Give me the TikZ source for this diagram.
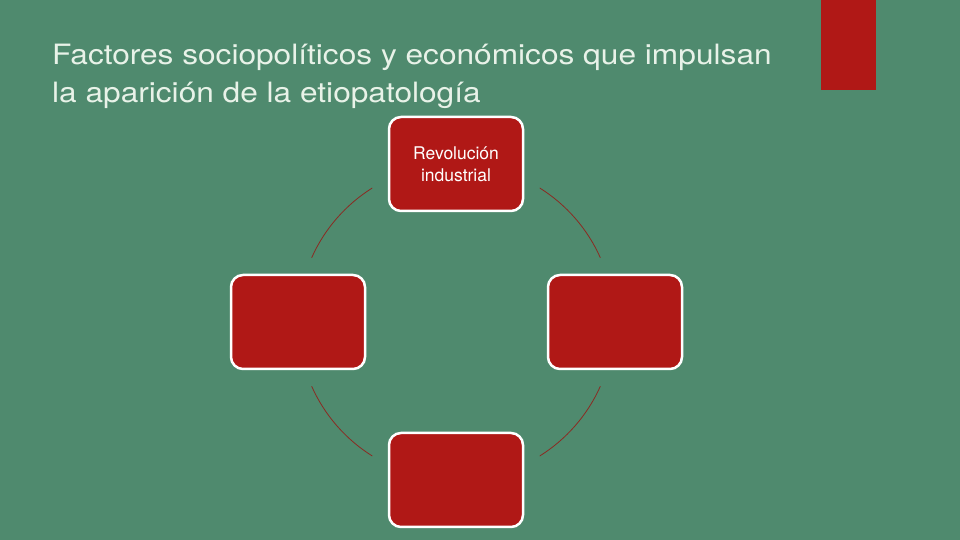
\documentclass[tikz,border=0pt]{standalone}
\usepackage{fontspec}
\setmainfont{TeX Gyre Heros}
\newfontfamily\titlefont[FakeStretch=1.13]{TeX Gyre Heros}
\definecolor{bggreen}{HTML}{4F8A6E}
\definecolor{boxred}{HTML}{B01816}
\definecolor{arcred}{HTML}{8A2A22}
\definecolor{titletext}{HTML}{E8F2E8}
\begin{document}
\begin{tikzpicture}[x=1pt,y=1pt,
  cyclebox/.style={draw=white,line width=2.5pt,fill=boxred,rounded corners=12pt,
    minimum width=134pt,minimum height=94pt,inner sep=0pt,align=center,
    text=white,font=\fontsize{17.5}{22}\selectfont},
  titleline/.style={anchor=base west,inner sep=0pt,text=titletext,
    font=\titlefont\fontsize{28}{37}\selectfont},
  cyclearc/.style={draw=arcred,line width=0.8pt}]
\useasboundingbox (0,0) rectangle (960,540);
\fill[bggreen] (0,0) rectangle (960,540);
\fill[boxred] (821,450) rectangle (876,540);
\node[titleline] (title1) at (52,475) {Factores sociopolíticos y económicos que impulsan};
\node[titleline] (title2) at (52,437) {la aparición de la etiopatología};
\coordinate (c) at (456,218);
\node[cyclebox] (top) at (456,376) {Revolución\\industrial};
\node[cyclebox] (left) at (298,218) {};
\node[cyclebox] (right) at (615,218) {};
\node[cyclebox] (bottom) at (456,60) {};
\draw[cyclearc] ([shift={(122:158)}]c) arc[start angle=122,end angle=156,radius=158];
\draw[cyclearc] ([shift={(24:158)}]c) arc[start angle=24,end angle=58,radius=158];
\draw[cyclearc] ([shift={(-58:158)}]c) arc[start angle=-58,end angle=-24,radius=158];
\draw[cyclearc] ([shift={(-156:158)}]c) arc[start angle=-156,end angle=-122,radius=158];
\end{tikzpicture}
\end{document}
